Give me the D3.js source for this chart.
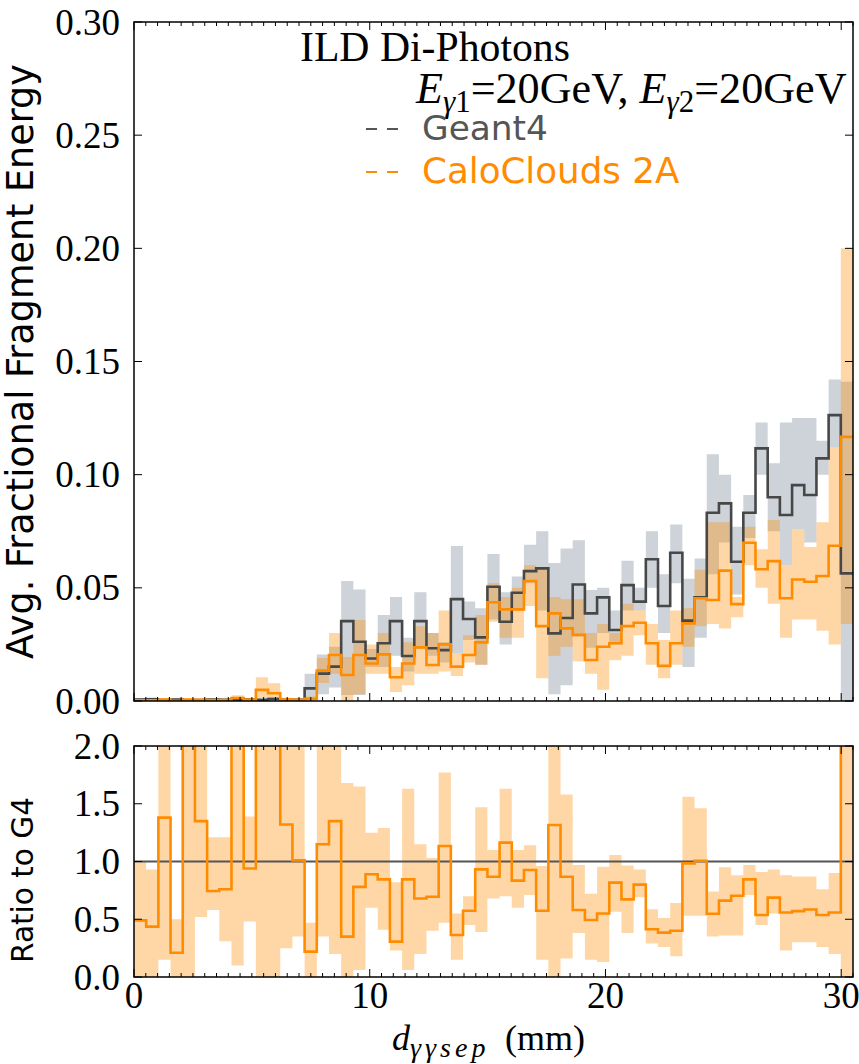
<!DOCTYPE html>
<html>
<head>
<meta charset="utf-8">
<script src="https://cdn.jsdelivr.net/npm/d3@7"></script>
<style>
  body { margin: 0; background: #fff; }
  svg text { font-family: "DejaVu Sans", sans-serif; }
</style>
</head>
<body>
<div id="container"></div>
<script>
/* DATA */
// 59 bins of d_sep between 0 and 30.5 mm
const binEdges = d3.range(60).map(i => i * 30.5 / 59);

const g4 = [
  0.0006, 0.0008, 0.0004, 0.0006, 0.0002, 0.0004, 0.0006, 0.0005, 0.0004, 0.0006,
  0.0005, 0.0009, 0.0005, 0.0005, 0.0056, 0.0121, 0.0152, 0.0353, 0.0262, 0.0188,
  0.0255, 0.0353, 0.0199, 0.0353, 0.0233, 0.0225, 0.0450, 0.0362, 0.0281, 0.0505,
  0.0350, 0.0478, 0.0574, 0.0586, 0.0299, 0.0367, 0.0515, 0.0387, 0.0458, 0.0314,
  0.0512, 0.0439, 0.0626, 0.0420, 0.0655, 0.0355, 0.0458, 0.0832, 0.0873, 0.0615,
  0.0832, 0.1116, 0.0900, 0.0822, 0.0954, 0.0910, 0.1072, 0.1263, 0.0564];
const g4Lo = [
  0.0001, 0.0002, 0.0000, 0.0001, 0.0000, 0.0000, 0.0001, 0.0001, 0.0000, 0.0001,
  0.0001, 0.0002, 0.0001, 0.0001, 0.0010, 0.0030, 0.0060, 0.0027, 0.0027, 0.0150,
  0.0150, 0.0200, 0.0130, 0.0230, 0.0200, 0.0170, 0.0210, 0.0270, 0.0160, 0.0360,
  0.0250, 0.0400, 0.0520, 0.0400, 0.0030, 0.0070, 0.0285, 0.0235, 0.0300, 0.0250,
  0.0400, 0.0400, 0.0500, 0.0300, 0.0520, 0.0150, 0.0280, 0.0560, 0.0700, 0.0470,
  0.0720, 0.1000, 0.0750, 0.0600, 0.0760, 0.0700, 0.1000, 0.1120, 0.0000];
const g4Hi = [
  0.0012, 0.0015, 0.0009, 0.0012, 0.0005, 0.0009, 0.0012, 0.0010, 0.0009, 0.0012,
  0.0010, 0.0018, 0.0010, 0.0010, 0.0120, 0.0206, 0.0240, 0.0530, 0.0493, 0.0230,
  0.0380, 0.0460, 0.0280, 0.0480, 0.0300, 0.0260, 0.0685, 0.0440, 0.0410, 0.0650,
  0.0480, 0.0550, 0.0690, 0.0750, 0.0610, 0.0674, 0.0710, 0.0490, 0.0500, 0.0400,
  0.0620, 0.0500, 0.0750, 0.0560, 0.0780, 0.0540, 0.0630, 0.1090, 0.1000, 0.0770,
  0.0910, 0.1230, 0.1050, 0.1230, 0.1250, 0.1250, 0.1150, 0.1420, 0.1410];

const cc = [
  0.0003, 0.0003, 0.0006, 0.0001, 0.0006, 0.0005, 0.0004, 0.0004, 0.0013, 0.0006,
  0.0049, 0.0034, 0.0007, 0.0005, 0.0010, 0.0134, 0.0203, 0.0115, 0.0203, 0.0166,
  0.0206, 0.0105, 0.0166, 0.0237, 0.0159, 0.0250, 0.0152, 0.0203, 0.0259, 0.0436,
  0.0405, 0.0405, 0.0530, 0.0331, 0.0387, 0.0321, 0.0292, 0.0181, 0.0240, 0.0255,
  0.0331, 0.0346, 0.0255, 0.0155, 0.0255, 0.0343, 0.0454, 0.0446, 0.0576, 0.0428,
  0.0699, 0.0582, 0.0618, 0.0454, 0.0537, 0.0527, 0.0552, 0.0686, 0.1167];
const ccLo = [
  0.0000, 0.0000, 0.0001, 0.0000, 0.0001, 0.0001, 0.0000, 0.0000, 0.0003, 0.0001,
  0.0012, 0.0004, 0.0001, 0.0001, 0.0000, 0.0080, 0.0120, 0.0000, 0.0030, 0.0120,
  0.0120, 0.0040, 0.0070, 0.0120, 0.0120, 0.0130, 0.0110, 0.0170, 0.0160, 0.0350,
  0.0280, 0.0280, 0.0420, 0.0100, 0.0200, 0.0240, 0.0176, 0.0120, 0.0050, 0.0180,
  0.0200, 0.0290, 0.0160, 0.0100, 0.0160, 0.0240, 0.0330, 0.0340, 0.0320, 0.0370,
  0.0600, 0.0500, 0.0430, 0.0280, 0.0360, 0.0360, 0.0310, 0.0250, 0.0340];
const ccHi = [
  0.0006, 0.0006, 0.0012, 0.0003, 0.0012, 0.0010, 0.0008, 0.0008, 0.0025, 0.0012,
  0.0105, 0.0078, 0.0014, 0.0010, 0.0020, 0.0190, 0.0300, 0.0194, 0.0358, 0.0250,
  0.0300, 0.0150, 0.0260, 0.0330, 0.0300, 0.0400, 0.0210, 0.0290, 0.0380, 0.0520,
  0.0460, 0.0500, 0.0600, 0.0580, 0.0460, 0.0450, 0.0450, 0.0300, 0.0340, 0.0300,
  0.0430, 0.0400, 0.0340, 0.0270, 0.0400, 0.0410, 0.0580, 0.0790, 0.0790, 0.0460,
  0.0770, 0.0670, 0.0800, 0.0600, 0.0760, 0.0680, 0.0790, 0.1120, 0.2000];

const ratio = [
  0.49, 0.436, 1.38, 0.21, 2.5, 1.35, 0.745, 0.76, 2.5, 0.94,
  6.1, 3.8, 1.32, 1.01, 0.22, 1.15, 1.35, 0.35, 0.78, 0.89,
  0.845, 0.306, 0.845, 0.68, 0.695, 1.134, 0.364, 0.574, 0.932, 0.868,
  1.163, 0.834, 0.926, 0.574, 1.316, 0.868, 0.58, 0.494, 0.55, 0.817,
  0.672, 0.80, 0.413, 0.384, 0.40, 0.984, 1.007, 0.548, 0.661, 0.704,
  0.845, 0.537, 0.687, 0.559, 0.57, 0.585, 0.537, 0.559, 2.07];
const ratioLo = [
  0, 0, 0.15, 0, 0, 0.52, 0.58, 0.31, 0.10, 0.48,
  0, 0, 0.25, 0.35, 0, 0.35, 0.2, 0, 0.06, 0.6,
  0.41, 0.23, 0.06, 0.2, 0.4, 0.47, 0.15, 0.45, 0.39, 0.68,
  0.7, 0.6, 0.71, 0.15, 0, 0.16, 0.38, 0.15, 0.13, 0.565,
  0.38, 0.69, 0.29, 0.26, 0.18, 0.53, 0.53, 0.35, 0.36, 0.36,
  0.71, 0.45, 0.55, 0.23, 0.30, 0.30, 0.26, 0.20, 0];
const ratioHi = [
  1.0, 0.93, 2.1, 0.5, 2.1, 2.1, 1.21, 1.21, 2.1, 1.39,
  2.1, 2.1, 2.1, 2.1, 0.47, 2.1, 2.1, 1.68, 1.65, 1.25,
  1.29, 0.82, 1.63, 1.15, 1.03, 1.77, 0.55, 0.7, 1.47, 1.1,
  1.63, 1.1, 1.14, 0.96, 2.1, 1.58, 0.97, 0.72, 0.955, 1.056,
  0.965, 0.93, 0.586, 0.51, 0.64, 1.56, 1.46, 0.74, 0.95, 0.88,
  0.97, 0.91, 0.93, 0.88, 0.87, 0.87, 0.76, 0.90, 2.1];

const xTicks = [0, 10, 20, 30];
const topTicks = [0, 0.05, 0.10, 0.15, 0.20, 0.25, 0.30];
const topTickLabels = ["0.00", "0.05", "0.10", "0.15", "0.20", "0.25", "0.30"];
const ratioTicks = [0, 0.5, 1.0, 1.5, 2.0];
const ratioTickLabels = ["0.0", "0.5", "1.0", "1.5", "2.0"];

/* CONSTANTS */
const width = 859, height = 1064;
const left = 134, right = 853;
const topPanel = [22, 701], ratioPanel = [746, 977];
const grayLine = "#474747", orange = "#ff8c00";
const serif = "'Liberation Serif', 'DejaVu Serif', serif";

/* SCALES */
const xScale = d3.scaleLinear().domain([0, 30.5]).range([left, right]);
const yTop = d3.scaleLinear().domain([0, 0.30]).range([topPanel[1], topPanel[0]]);
const yRat = d3.scaleLinear().domain([0, 2]).range([ratioPanel[1], ratioPanel[0]]);

const svg = d3.select("#container").append("svg")
  .attr("width", width).attr("height", height);

// clip paths for both panels
const defs = svg.append("defs");
[["clipTop", topPanel], ["clipRat", ratioPanel]].forEach(([id, p]) => {
  defs.append("clipPath").attr("id", id).append("rect")
    .attr("x", left).attr("y", p[0]).attr("width", right - left).attr("height", p[1] - p[0]);
});

// step helpers: points on bin edges, last value repeated at the right edge
const stepPts = vals => binEdges.map((e, i) => [e, vals[Math.min(i, vals.length - 1)]]);
const bandPts = (lo, hi) => binEdges.map((e, i) => {
  const k = Math.min(i, lo.length - 1);
  return [e, lo[k], hi[k]];
});

function drawPanel(yScale, clip) {
  const g = svg.append("g").attr("clip-path", `url(#${clip})`);
  return {
    band(lo, hi, fill) {
      g.append("path")
        .datum(bandPts(lo, hi))
        .attr("d", d3.area().curve(d3.curveStepAfter)
          .x(d => xScale(d[0])).y0(d => yScale(d[1])).y1(d => yScale(d[2])))
        .attr("fill", fill).attr("fill-opacity", 0.35);
    },
    line(vals, color, w) {
      g.append("path")
        .datum(stepPts(vals))
        .attr("d", d3.line().curve(d3.curveStepAfter)
          .x(d => xScale(d[0])).y(d => yScale(d[1])))
        .attr("fill", "none").attr("stroke", color).attr("stroke-width", w);
    },
    g
  };
}

/* TOP PANEL */
const topP = drawPanel(yTop, "clipTop");
topP.band(g4Lo, g4Hi, "slategray");
topP.band(ccLo, ccHi, "darkorange");
topP.line(g4, grayLine, 2.6);
topP.line(cc, orange, 2.6);

/* RATIO PANEL */
const ratP = drawPanel(yRat, "clipRat");
ratP.band(ratioLo, ratioHi, "darkorange");
ratP.g.append("line")
  .attr("x1", left).attr("x2", right)
  .attr("y1", yRat(1)).attr("y2", yRat(1))
  .attr("stroke", "#555").attr("stroke-width", 2);
ratP.line(ratio, orange, 2.6);

/* FRAMES AND TICKS */
const minorX = d3.range(0, 30.5001, 0.5).filter(v => v % 10 !== 0);
function frame(yScale, p, yt) {
  const g = svg.append("g");
  g.append("rect").attr("x", left).attr("y", p[0])
    .attr("width", right - left).attr("height", p[1] - p[0])
    .attr("fill", "none").attr("stroke", "#000").attr("stroke-width", 1.5);
  const tk = (x1, y1, x2, y2) => g.append("line")
    .attr("x1", x1).attr("y1", y1).attr("x2", x2).attr("y2", y2)
    .attr("stroke", "#000").attr("stroke-width", 1);
  xTicks.forEach(v => { tk(xScale(v), p[1], xScale(v), p[1] - 8); tk(xScale(v), p[0], xScale(v), p[0] + 8); });
  minorX.forEach(v => { tk(xScale(v), p[1], xScale(v), p[1] - 4); tk(xScale(v), p[0], xScale(v), p[0] + 4); });
  yt.forEach(v => { tk(left, yScale(v), left + 8, yScale(v)); tk(right, yScale(v), right - 8, yScale(v)); });
  return g;
}
const fTop = frame(yTop, topPanel, topTicks);
const fRat = frame(yRat, ratioPanel, ratioTicks);

fTop.selectAll(".ylab").data(topTicks).join("text")
  .attr("x", 120).attr("y", d => yTop(d)).attr("dy", "0.34em")
  .attr("text-anchor", "end").style("font-family", serif).attr("font-size", 37)
  .text((d, i) => topTickLabels[i]);
fRat.selectAll(".ylab").data(ratioTicks).join("text")
  .attr("x", 120).attr("y", d => yRat(d)).attr("dy", "0.34em")
  .attr("text-anchor", "end").style("font-family", serif).attr("font-size", 37)
  .text((d, i) => ratioTickLabels[i]);
fRat.selectAll(".xlab").data(xTicks).join("text")
  .attr("x", d => xScale(d)).attr("y", 1008)
  .attr("text-anchor", "middle").style("font-family", serif).attr("font-size", 37)
  .text(d => d);

/* TEXTS */
function fit(sel, target) {
  const w = sel.node().getBBox().width;
  const fs = parseFloat(sel.attr("font-size"));
  sel.attr("font-size", fs * target / w);
  return sel;
}

fit(svg.append("text")
  .attr("transform", `translate(33,${(topPanel[0] + topPanel[1]) / 2}) rotate(-90)`)
  .attr("text-anchor", "middle").attr("font-size", 30)
  .text("Avg. Fractional Fragment Energy"), 595);

fit(svg.append("text")
  .attr("transform", "translate(33,880) rotate(-90)")
  .attr("text-anchor", "middle").attr("font-size", 30)
  .text("Ratio to G4"), 166);

// x axis label, pieces placed along the line
const xl = svg.append("text").attr("y", 1050)
  .style("font-family", serif).attr("font-size", 36);
xl.append("tspan").attr("x", 392).attr("font-style", "italic").text("d");
xl.append("tspan").attr("x", 410).attr("dy", 7).attr("font-style", "italic")
  .attr("font-size", 28).attr("letter-spacing", 4).text("γγsep");
xl.append("tspan").attr("x", 505).attr("dy", -7).text("(mm)");

// annotation
fit(svg.append("text").attr("x", 300).attr("y", 61).attr("font-size", 33)
  .style("font-family", serif).text("ILD Di-Photons"), 270);

const en = svg.append("text").attr("x", 416).attr("y", 103).attr("font-size", 36)
  .style("font-family", serif);
["1", "2"].forEach((n, k) => {
  if (k) en.append("tspan").text(", ");
  en.append("tspan").attr("font-style", "italic").text("E");
  en.append("tspan").attr("font-style", "italic").attr("font-size", "0.7em").attr("dy", "0.3em").text("γ");
  en.append("tspan").attr("font-size", "0.7em").text(n);
  en.append("tspan").attr("dy", "-0.21em").text("=20GeV");
});
fit(en, 432);

// legend
const legend = [["Geant4", "#555", 140, 126], ["CaloClouds 2A", orange, 183, 258]];
legend.forEach(([name, col, yb, w]) => {
  [366, 387].forEach(x0 => svg.append("line")
    .attr("x1", x0).attr("x2", x0 + 11).attr("y1", yb - 11).attr("y2", yb - 11)
    .attr("stroke", col).attr("stroke-width", 2));
  fit(svg.append("text").attr("x", 422).attr("y", yb).attr("font-size", 30)
    .attr("fill", col).text(name), w);
});
</script>
</body>
</html>
